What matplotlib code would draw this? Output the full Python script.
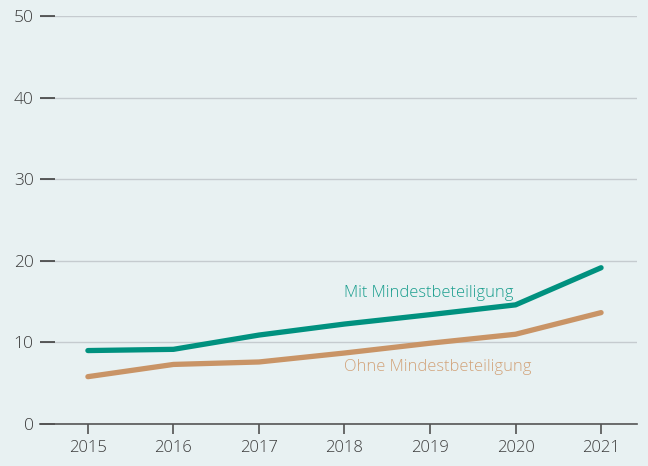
import numpy as np
import matplotlib.pyplot as plt

# Werte
years = [2015, 2016, 2017, 2018, 2019, 2020, 2021]
mit_mindest = [9.0, 9.15, 10.9, 12.25, 13.4, 14.6, 19.15]
ohne_mindest = [5.8, 7.3, 7.6, 8.7, 9.9, 11.0, 13.65]
yticks = [0, 10, 20, 30, 40, 50]

bg = '#e8f1f2'
green = '#00917f'
orange = '#c99466'

plt.rcParams['font.family'] = ['Open Sans', 'DejaVu Sans']
plt.rcParams['font.weight'] = 'light'

fig = plt.figure(figsize=(6.48, 4.66), dpi=100, facecolor=bg)
ax = fig.add_axes([40 / 648, 42 / 466, 597 / 648, 408 / 466], facecolor=bg)

ax.plot(years, mit_mindest, color=green, lw=3.8, solid_capstyle='round',
        solid_joinstyle='round', zorder=3)
ax.plot(years, ohne_mindest, color=orange, lw=3.8, solid_capstyle='round',
        solid_joinstyle='round', zorder=3)

ax.text(2018.0, 16.1, 'Mit Mindestbeteiligung', color='#1a9e8e',
        fontsize=11.9, va='center', ha='left')
ax.text(2018.0, 7.0, 'Ohne Mindestbeteiligung', color='#d2a37a',
        fontsize=11.9, va='center', ha='left')

ax.set_xlim(2014.44, 2021.42)
ax.set_ylim(0, 50)
ax.set_xticks(years)
ax.set_yticks(yticks)

for s in ['top', 'right', 'left']:
    ax.spines[s].set_visible(False)
ax.spines['bottom'].set_color('#555555')
ax.spines['bottom'].set_linewidth(1.2)

ax.grid(axis='y', color='#c5cbcf', lw=1)
ax.tick_params(axis='y', direction='in', length=10.5, width=1.1,
               color='#333333', pad=4.5, labelsize=12.5, labelcolor='#3c3c3c')
ax.tick_params(axis='x', direction='out', length=7.5, width=1.1,
               color='#444444', pad=4, labelsize=12, labelcolor='#3c3c3c')

fig.savefig('out.png', dpi=100, facecolor=bg)
